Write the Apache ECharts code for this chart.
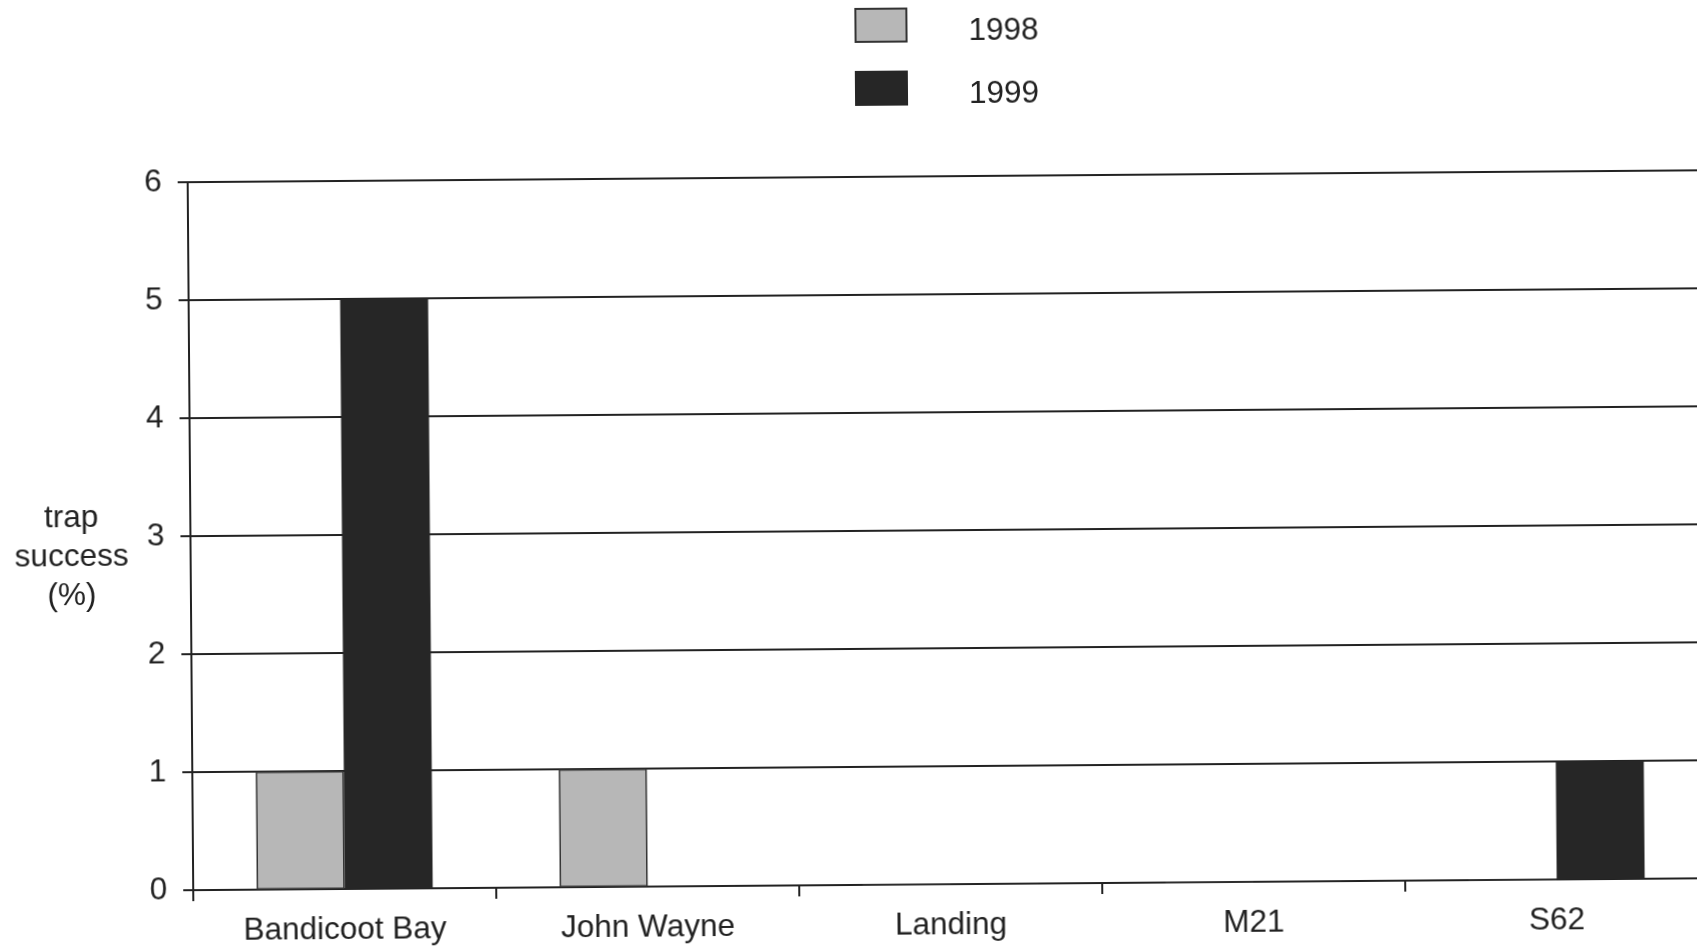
<!DOCTYPE html>
<html>
<head>
<meta charset="utf-8">
<script src="https://cdn.jsdelivr.net/npm/echarts@6/dist/echarts.min.js"></script>
<style>
html,body{margin:0;padding:0;background:#fff;overflow:hidden;width:1697px;height:952px;}
#chart{width:1730px;height:952px;transform:rotate(-0.45deg);transform-origin:848.5px 476px;}
</style>
</head>
<body>
<div id="chart"></div>
<script>
const categories = ['Bandicoot Bay', 'John Wayne', 'Landing', 'M21', 'S62'];
const seriesNames = ['1998', '1999'];
const values1998 = [1, 1, 0, 0, 0];
const values1999 = [5, 0, 0, 0, 1];
const yTicks = [0, 1, 2, 3, 4, 5, 6];
const yAxisTitle = 'trap\nsuccess\n(%)';

const chart = echarts.init(document.getElementById('chart'), null, {renderer: 'canvas'});
const font = 'Liberation Sans, Arial, sans-serif';
chart.setOption({
  animation: false,
  backgroundColor: '#ffffff',
  textStyle: {fontFamily: font},
  legend: {
    orient: 'vertical',
    left: 853,
    top: 3,
    itemWidth: 51,
    itemHeight: 33,
    itemGap: 23,
    icon: 'rect',
    data: seriesNames,
    formatter: function (n) { return '{s| }{t|' + n + '}'; },
    textStyle: {
      fontFamily: font, fontSize: 31.5, color: '#222',
      rich: {
        s: {width: 57, lineHeight: 45, fontSize: 2},
        t: {fontFamily: font, fontSize: 31.5, color: '#222', lineHeight: 32, verticalAlign: 'bottom'}
      }
    }
  },
  graphic: [{
    type: 'text',
    x: 71,
    y: 551,
    style: {text: yAxisTitle, fontFamily: font, fontSize: 31.5, lineHeight: 39, fill: '#222', align: 'center', verticalAlign: 'middle'}
  }],
  grid: {left: 190, top: 177, width: 1515, height: 708, containLabel: false},
  xAxis: {
    type: 'category',
    data: categories,
    axisLine: {lineStyle: {color: '#222', width: 2}},
    axisTick: {show: true, length: 11, lineStyle: {color: '#222', width: 2}},
    axisLabel: {fontFamily: font, fontSize: 31.5, color: '#222', margin: 25}
  },
  yAxis: {
    type: 'value',
    min: yTicks[0],
    max: yTicks[yTicks.length - 1],
    interval: 1,
    axisLine: {show: true, lineStyle: {color: '#222', width: 2}},
    axisTick: {show: true, length: 10, lineStyle: {color: '#222', width: 2}},
    splitLine: {show: true, lineStyle: {color: '#222', width: 2}},
    axisLabel: {fontFamily: font, fontSize: 31.5, color: '#222', margin: 26}
  },
  series: [
    {
      name: seriesNames[0],
      type: 'bar',
      data: values1998,
      barWidth: 88,
      barGap: '0%',
      itemStyle: {color: '#b7b7b7', borderColor: '#333', borderWidth: 1.5}
    },
    {
      name: seriesNames[1],
      type: 'bar',
      data: values1999,
      barWidth: 88,
      barGap: '0%',
      itemStyle: {color: '#262626', borderColor: '#262626', borderWidth: 1}
    }
  ]
});
</script>
</body>
</html>
